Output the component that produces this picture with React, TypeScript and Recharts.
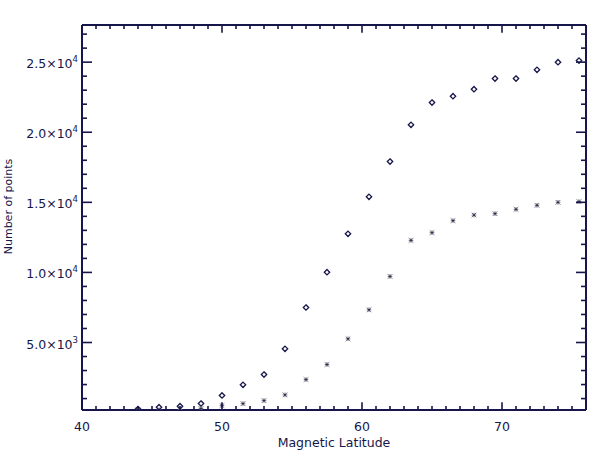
import React from 'react';
import { ScatterChart, Scatter, XAxis, YAxis, Label } from 'recharts';

// ---- data ----
const latitude = [44, 45.5, 47, 48.5, 50, 51.5, 53, 54.5, 56, 57.5, 59, 60.5, 62, 63.5, 65, 66.5, 68, 69.5, 71, 72.5, 74, 75.5];
const diamondCounts = [250, 385, 456, 649, 1220, 1983, 2717, 4551, 7497, 10015, 12754, 15393, 17911, 20529, 22119, 22569, 23068, 23831, 23831, 24452, 24994, 25115];
const asteriskCounts = [185, 200, 230, 290, 500, 640, 857, 1264, 2357, 3430, 5264, 7336, 9714, 12286, 12836, 13693, 14093, 14193, 14500, 14786, 15000, 15050];

const xDomain = [40, 76];
const yDomain = [185, 27650];
const xMajorTicks = [40, 50, 60, 70];
const xMinorTicks = [40, 41, 42, 43, 44, 45, 46, 47, 48, 49, 50, 51, 52, 53, 54, 55, 56, 57, 58, 59, 60, 61, 62, 63, 64, 65, 66, 67, 68, 69, 70, 71, 72, 73, 74, 75, 76];
const yMajorTicks = [5000, 10000, 15000, 20000, 25000];
const yTickMantissa = ['5.0', '1.0', '1.5', '2.0', '2.5'];
const yTickExponent = ['3', '4', '4', '4', '4'];
const yMinorTicks = [1000, 2000, 3000, 4000, 5000, 6000, 7000, 8000, 9000, 10000, 11000, 12000, 13000, 14000, 15000, 16000, 17000, 18000, 19000, 20000, 21000, 22000, 23000, 24000, 25000, 26000, 27000];

const diamondData = latitude.map((x, i) => ({ x, y: diamondCounts[i] }));
const asteriskData = latitude.map((x, i) => ({ x, y: asteriskCounts[i] }));

const INK = '#16164a';
const FONT = '"DejaVu Sans", sans-serif';

const XTick = (props: any) => {
  const { x, y, payload, side } = props;
  const v = payload.value;
  const major = xMajorTicks.includes(v);
  const len = major ? 7.7 : 3.9;
  const dir = side === 'top' ? 1 : -1;
  return (
    <g>
      <line x1={x} y1={y} x2={x} y2={y + dir * len} stroke={INK} strokeWidth={1.6} />
      {major && side !== 'top' ? (
        <text x={x} y={y + 21} textAnchor="middle" fontSize={12.5} fontFamily={FONT} fill={INK}>
          {String(v)}
        </text>
      ) : null}
    </g>
  );
};

const YTick = (props: any) => {
  const { x, y, payload, side } = props;
  const v = payload.value;
  const idx = yMajorTicks.indexOf(v);
  const major = idx >= 0;
  const len = major ? 10 : 5;
  const dir = side === 'right' ? -1 : 1;
  return (
    <g>
      <line x1={x} y1={y} x2={x + dir * len} y2={y} stroke={INK} strokeWidth={1.6} />
      {major && side !== 'right' ? (
        <text x={x - 4} y={y + 6} textAnchor="end" fontSize={12.5} fontFamily={FONT} fill={INK}>
          {yTickMantissa[idx] + '×10'}
          <tspan dy={-6} fontSize={8.5}>{yTickExponent[idx]}</tspan>
        </text>
      ) : null}
    </g>
  );
};

const Diamond = (props: any) => {
  const { cx, cy } = props;
  const r = 2.7;
  return (
    <path
      d={`M${cx},${cy - r} L${cx + r},${cy} L${cx},${cy + r} L${cx - r},${cy} Z`}
      fill="none"
      stroke={INK}
      strokeWidth={1.3}
    />
  );
};

const Asterisk = (props: any) => {
  const { cx, cy } = props;
  const r = 2.3;
  return (
    <g stroke="#6a6a7a" strokeWidth={1}>
      <line x1={cx - r} y1={cy} x2={cx + r} y2={cy} />
      <line x1={cx} y1={cy - r} x2={cx} y2={cy + r} />
      <line x1={cx - r} y1={cy - r} x2={cx + r} y2={cy + r} />
      <line x1={cx - r} y1={cy + r} x2={cx + r} y2={cy - r} />
      <rect x={cx - 0.8} y={cy - 0.8} width={1.6} height={1.6} fill="#22224a" stroke="none" />
    </g>
  );
};

const NoMark = () => <g />;

export default function App() {
  const axisLine = { stroke: INK, strokeWidth: 2 };
  return (
    <div style={{ position: 'absolute', left: 0, top: 0, background: '#fff' }}>
      <ScatterChart width={611} height={464} margin={{ top: 24, right: 24, bottom: 0, left: 0 }}>
        <XAxis
          xAxisId="b"
          type="number"
          dataKey="x"
          domain={xDomain}
          ticks={xMinorTicks}
          interval={0}
          allowDataOverflow
          tickSize={0}
          tickMargin={0}
          tickLine={false}
          axisLine={axisLine}
          tick={<XTick side="bottom" />}
          height={54}
        >
          <Label
            content={(p: any) => {
              const vb = p.viewBox;
              return (
                <text x={vb.x + vb.width / 2} y={vb.y + 37} textAnchor="middle" fontSize={12.5} fontFamily={FONT} fill={INK}>
                  Magnetic Latitude
                </text>
              );
            }}
          />
        </XAxis>
        <XAxis
          xAxisId="t"
          orientation="top"
          type="number"
          dataKey="x"
          domain={xDomain}
          ticks={xMinorTicks}
          interval={0}
          allowDataOverflow
          tickSize={0}
          tickMargin={0}
          tickLine={false}
          axisLine={axisLine}
          tick={<XTick side="top" />}
          height={1}
        />
        <YAxis
          yAxisId="l"
          type="number"
          dataKey="y"
          domain={yDomain}
          ticks={yMinorTicks}
          interval={0}
          allowDataOverflow
          tickSize={0}
          tickMargin={0}
          tickLine={false}
          axisLine={axisLine}
          tick={<YTick side="left" />}
          width={82}
        >
          <Label
            content={(p: any) => {
              const vb = p.viewBox;
              const cx = 12;
              const cy = vb.y + vb.height / 2 - 11;
              return (
                <text x={cx} y={cy} transform={`rotate(-90 ${cx} ${cy})`} textAnchor="middle" fontSize={11} fontFamily={FONT} fill={INK}>
                  Number of points
                </text>
              );
            }}
          />
        </YAxis>
        <YAxis
          yAxisId="r"
          orientation="right"
          type="number"
          dataKey="y"
          domain={yDomain}
          ticks={yMinorTicks}
          interval={0}
          allowDataOverflow
          tickSize={0}
          tickMargin={0}
          tickLine={false}
          axisLine={axisLine}
          tick={<YTick side="right" />}
          width={1}
        />
        <Scatter xAxisId="t" yAxisId="r" data={diamondData} shape={<NoMark />} isAnimationActive={false} />
        <Scatter xAxisId="b" yAxisId="l" data={asteriskData} shape={<Asterisk />} isAnimationActive={false} />
        <Scatter xAxisId="b" yAxisId="l" data={diamondData} shape={<Diamond />} isAnimationActive={false} />
      </ScatterChart>
    </div>
  );
}
